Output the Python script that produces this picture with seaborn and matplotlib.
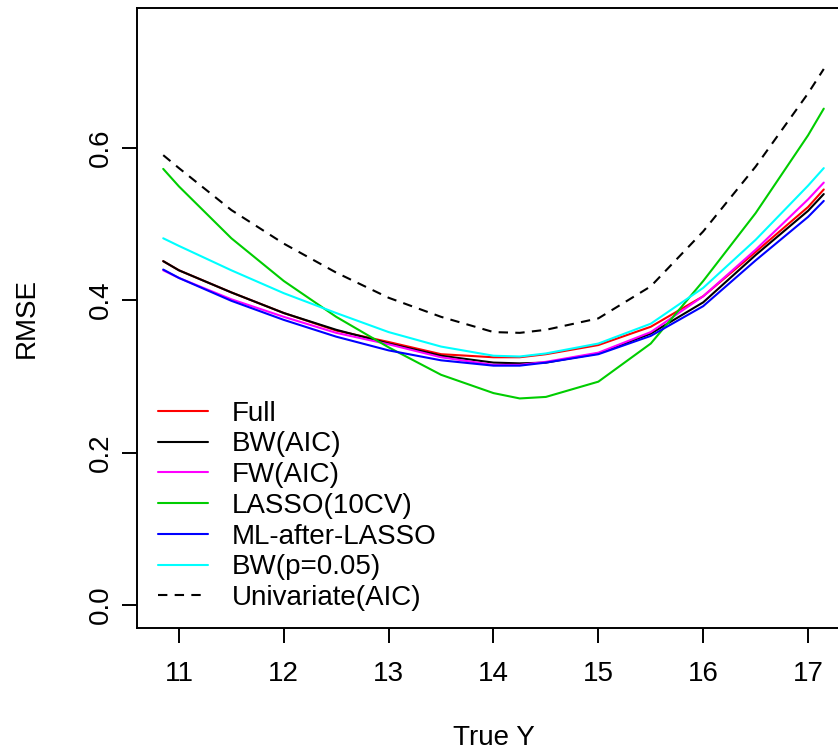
import matplotlib
matplotlib.use("Agg")
import matplotlib.pyplot as plt
import pandas as pd
import seaborn as sns


output_path = "out.png"

# 読み取った値 (True Y ごとの RMSE)
true_y = [10.85, 11.0, 11.5, 12.0, 12.5, 13.0, 13.5, 14.0, 14.25, 14.5, 15.0, 15.5, 16.0, 16.5, 17.0, 17.15]

rmse_full = [0.451, 0.439, 0.410, 0.383, 0.360, 0.345, 0.329, 0.325, 0.325, 0.329, 0.341, 0.365, 0.405, 0.463, 0.522, 0.545]
rmse_bw_aic = [0.451, 0.439, 0.410, 0.383, 0.361, 0.343, 0.327, 0.318, 0.317, 0.318, 0.330, 0.356, 0.397, 0.459, 0.517, 0.539]
rmse_fw_aic = [0.439, 0.429, 0.401, 0.378, 0.357, 0.342, 0.325, 0.315, 0.315, 0.319, 0.331, 0.358, 0.405, 0.466, 0.532, 0.554]
rmse_lasso = [0.572, 0.549, 0.481, 0.425, 0.378, 0.338, 0.302, 0.278, 0.271, 0.273, 0.293, 0.343, 0.425, 0.514, 0.616, 0.651]
rmse_ml_lasso = [0.440, 0.429, 0.399, 0.374, 0.352, 0.334, 0.321, 0.314, 0.314, 0.318, 0.329, 0.353, 0.392, 0.452, 0.509, 0.530]
rmse_bw_p = [0.481, 0.471, 0.439, 0.409, 0.383, 0.358, 0.339, 0.327, 0.326, 0.330, 0.343, 0.369, 0.416, 0.479, 0.550, 0.573]
rmse_univ = [0.590, 0.573, 0.518, 0.474, 0.436, 0.403, 0.378, 0.358, 0.357, 0.361, 0.376, 0.418, 0.490, 0.575, 0.671, 0.703]

labels = ["Full", "BW(AIC)", "FW(AIC)", "LASSO(10CV)", "ML-after-LASSO", "BW(p=0.05)", "Univariate(AIC)"]
colors = ["#FF0000", "#000000", "#FF00FF", "#00CD00", "#0000FF", "#00FFFF", "#000000"]
series = [rmse_full, rmse_bw_aic, rmse_fw_aic, rmse_lasso, rmse_ml_lasso, rmse_bw_p, rmse_univ]

y_ticks = [0.0, 0.2, 0.4, 0.6]
x_ticks = [11, 12, 13, 14, 15, 16, 17]

sns.set_style("ticks")
plt.rcParams["font.family"] = ["Liberation Sans", "DejaVu Sans"]
plt.rcParams["text.color"] = "black"
plt.rcParams["axes.labelcolor"] = "black"
plt.rcParams["axes.linewidth"] = 1.4
plt.rcParams["xtick.major.width"] = 1.4
plt.rcParams["ytick.major.width"] = 1.4
plt.rcParams["xtick.major.size"] = 11
plt.rcParams["ytick.major.size"] = 11
plt.rcParams["xtick.color"] = "black"
plt.rcParams["ytick.color"] = "black"
plt.rcParams["axes.edgecolor"] = "black"

fig = plt.figure(figsize=(8.38, 7.52), dpi=100)
ax = fig.add_axes([0.1635, 0.1649, 0.8508, 0.8245])

for name, vals, col in zip(labels, series, colors):
    df = pd.DataFrame({"true_y": true_y, "rmse": vals})
    sns.lineplot(
        data=df,
        x="true_y",
        y="rmse",
        color=col,
        linewidth=1.5,
        linestyle="--" if name == "Univariate(AIC)" else "-",
        label=name,
        sort=False,
        ax=ax,
    )

for line in ax.get_lines():
    if line.get_linestyle() == "--":
        line.set_dashes((4.5, 3.5))

ax.set_xlim(10.6, 17.4)
ax.set_ylim(-0.030, 0.783)
ax.set_xticks(x_ticks)
ax.set_xticklabels([str(t) for t in x_ticks], fontsize=20)
ax.set_yticks(y_ticks)
ax.set_yticklabels([f"{t:.1f}" for t in y_ticks], fontsize=20, rotation=90, va="center")
ax.tick_params(axis="x", pad=13)
ax.tick_params(axis="y", pad=6)

ax.set_xlabel("True Y", fontsize=20)
ax.set_ylabel("RMSE", fontsize=20)
ax.xaxis.set_label_coords(0.5, -0.177)
ax.xaxis.label.set_va("center")
ax.yaxis.set_label_coords(-0.154, 0.5)
ax.yaxis.label.set_va("center")

for side in ["top", "right"]:
    ax.spines[side].set_visible(True)

ax.legend(
    loc="lower left",
    bbox_to_anchor=(158 / 838, 1 - 611 / 752),
    bbox_transform=fig.transFigure,
    frameon=False,
    fontsize=20,
    handlelength=1.8,
    handletextpad=0.85,
    labelspacing=0.17,
    borderpad=0,
    borderaxespad=0,
)

fig.savefig(output_path, dpi=100)
print("saved:", output_path)
